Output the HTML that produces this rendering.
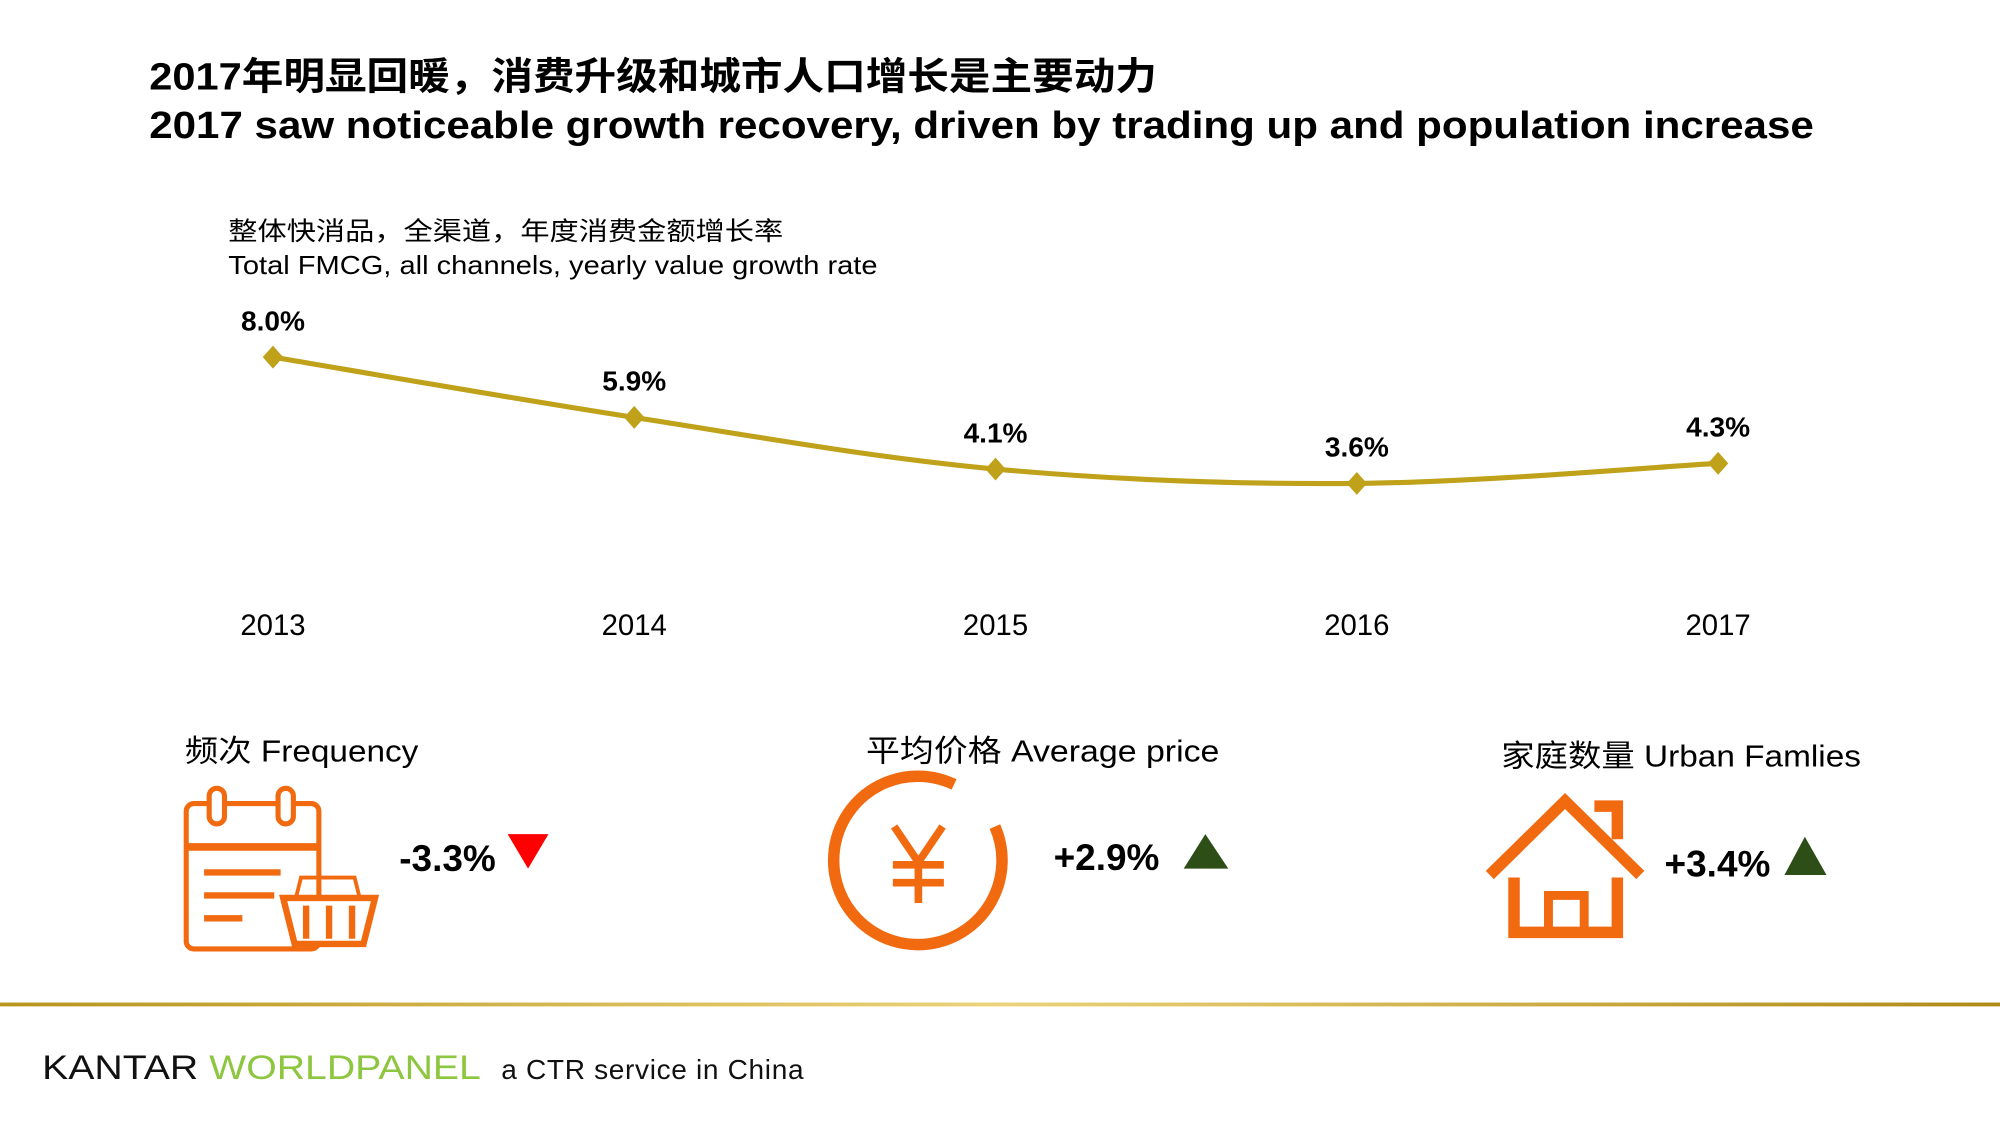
<!DOCTYPE html>
<html><head><meta charset="utf-8"><style>
html,body{margin:0;padding:0;background:#fff;width:2000px;height:1125px;overflow:hidden}
#wrap{width:1568px;height:882px;transform:scale(1.27551);transform-origin:0 0;position:relative}
svg text{font-family:"Liberation Sans","Noto Sans CJK SC",sans-serif}
</style></head><body>
<div id="wrap">
<svg id="s" width="1568" height="882" viewBox="0 0 1568 882">
<defs><linearGradient id="gl" x1="0" x2="1"><stop offset="0" stop-color="#b8951e"/><stop offset="0.5" stop-color="#ecd27a"/><stop offset="1" stop-color="#b08a16"/></linearGradient></defs>
<text x="117" y="70" font-size="30" font-weight="bold" fill="#000" textLength="790" lengthAdjust="spacingAndGlyphs">2017年明显回暖，消费升级和城市人口增长是主要动力</text>
<text x="117" y="108" font-size="30" font-weight="bold" fill="#000" textLength="1305" lengthAdjust="spacingAndGlyphs">2017 saw noticeable growth recovery, driven by trading up and population increase</text>
<text x="179" y="188" font-size="20" fill="#000" textLength="435" lengthAdjust="spacingAndGlyphs">整体快消品，全渠道，年度消费金额增长率</text>
<text x="179" y="215" font-size="20" fill="#000" textLength="509" lengthAdjust="spacingAndGlyphs">Total FMCG, all channels, yearly value growth rate</text>
<g id="chart"></g>

<text x="145" y="597" font-size="24" fill="#000" textLength="183" lengthAdjust="spacingAndGlyphs">频次 Frequency</text>
<text x="679" y="597" font-size="24" fill="#000" textLength="277" lengthAdjust="spacingAndGlyphs">平均价格  Average price</text>
<text x="1177" y="601" font-size="24" fill="#000" textLength="282" lengthAdjust="spacingAndGlyphs">家庭数量 Urban Famlies</text>

<g fill="none" stroke="#f26a10" stroke-width="4">
<rect x="146" y="630" width="104" height="114" rx="6"/>
<line x1="146" y1="664" x2="250" y2="664" stroke-width="6"/>
<rect x="164" y="618" width="12" height="28" rx="6" fill="#fff"/>
<rect x="218" y="618" width="12" height="28" rx="6" fill="#fff"/>
<line x1="160" y1="684" x2="220" y2="684" stroke-width="5"/>
<line x1="160" y1="702" x2="215" y2="702" stroke-width="5"/>
<line x1="160" y1="720" x2="190" y2="720" stroke-width="5"/>
<path d="M222 704 L294 704 L285 740 L231 740 Z" fill="#fff" stroke-width="5"/>
<path d="M232 704 L236 688 L278 688 L282 704" stroke-width="3"/>
<line x1="240" y1="710" x2="240" y2="736" stroke-width="5"/><line x1="258" y1="710" x2="258" y2="736" stroke-width="5"/><line x1="276" y1="710" x2="276" y2="736" stroke-width="5"/>
</g>
<text x="313" y="683" font-size="29" font-weight="bold" fill="#000">-3.3%</text>
<path d="M398 654 L430 654 L414 681 Z" fill="#f00"/>

<g fill="none" stroke="#f26a10">
<path d="M748 615 A66 66 0 1 0 780 648" stroke-width="9"/>
<path d="M701 648 L720 676 L739 648" stroke-width="6"/>
<line x1="700" y1="678" x2="740" y2="678" stroke-width="6"/>
<line x1="700" y1="692" x2="740" y2="692" stroke-width="6"/>
<line x1="720" y1="676" x2="720" y2="708" stroke-width="6"/>
</g>
<text x="826" y="682" font-size="29" font-weight="bold" fill="#000">+2.9%</text>
<path d="M928 681 L963 681 L945 654 Z" fill="#2d4f17"/>

<g fill="none" stroke="#f26a10" stroke-width="9">
<path d="M1168 686 L1227 628 L1286 686"/>
<path d="M1250 632 L1268 632 L1268 658"/>
<path d="M1187 688 L1187 731 L1268 731 L1268 688"/>
<path d="M1214 731 L1214 702 L1242 702 L1242 731" stroke-width="7"/>
</g>
<text x="1305" y="687" font-size="29" font-weight="bold" fill="#000">+3.4%</text>
<path d="M1399 686 L1432 686 L1415 656 Z" fill="#2d4f17"/>

<rect x="0" y="786" width="1568" height="3" fill="url(#gl)"/>
<text x="33" y="846" font-size="27" fill="#111" textLength="344" lengthAdjust="spacingAndGlyphs">KANTAR <tspan fill="#8dc63f">WORLDPANEL</tspan></text>
<text x="393" y="846" font-size="22" fill="#111" textLength="237">a CTR service in China</text>
</svg>
</div>
<script>
const years=["2013","2014","2015","2016","2017"];
const values=[8.0,5.9,4.1,3.6,4.3];
const valueLabels=["8.0%","5.9%","4.1%","3.6%","4.3%"];
const NS="http://www.w3.org/2000/svg";
const g=document.getElementById('chart');
const xs=i=>214+i*283.25;
const ys=v=>280+(8.0-v)*22.5;
const pts=values.map((v,i)=>[xs(i),ys(v)]);
let d="M"+pts[0][0]+" "+pts[0][1];
for(let i=0;i<pts.length-1;i++){
 const p0=pts[Math.max(0,i-1)],p1=pts[i],p2=pts[i+1],p3=pts[Math.min(pts.length-1,i+2)];
 const c1=[p1[0]+(p2[0]-p0[0])/6,p1[1]+(p2[1]-p0[1])/6],c2=[p2[0]-(p3[0]-p1[0])/6,p2[1]-(p3[1]-p1[1])/6];
 d+=` C${c1[0]} ${c1[1]} ${c2[0]} ${c2[1]} ${p2[0]} ${p2[1]}`;
}
const path=document.createElementNS(NS,'path');


path.setAttribute('d',d);path.setAttribute('fill','none');path.setAttribute('stroke','#bfa11a');path.setAttribute('stroke-width','4');
g.appendChild(path);
pts.forEach((p,i)=>{
 const m=document.createElementNS(NS,'path');
 
 
 m.setAttribute('d',`M${p[0]} ${p[1]-9} L${p[0]+8} ${p[1]} L${p[0]} ${p[1]+9} L${p[0]-8} ${p[1]} Z`);
 m.setAttribute('fill','#bfa11a');g.appendChild(m);
 const t=document.createElementNS(NS,'text');
 
 
 t.setAttribute('x',p[0]);t.setAttribute('y',p[1]-21);t.setAttribute('text-anchor','middle');
 t.setAttribute('font-size','22');t.setAttribute('font-weight','bold');t.textContent=valueLabels[i];g.appendChild(t);
 const y=document.createElementNS(NS,'text');
 
 
 y.setAttribute('x',p[0]);y.setAttribute('y',498);y.setAttribute('text-anchor','middle');
 y.setAttribute('font-size','23');y.textContent=years[i];g.appendChild(y);
});
</script>
</body></html>
